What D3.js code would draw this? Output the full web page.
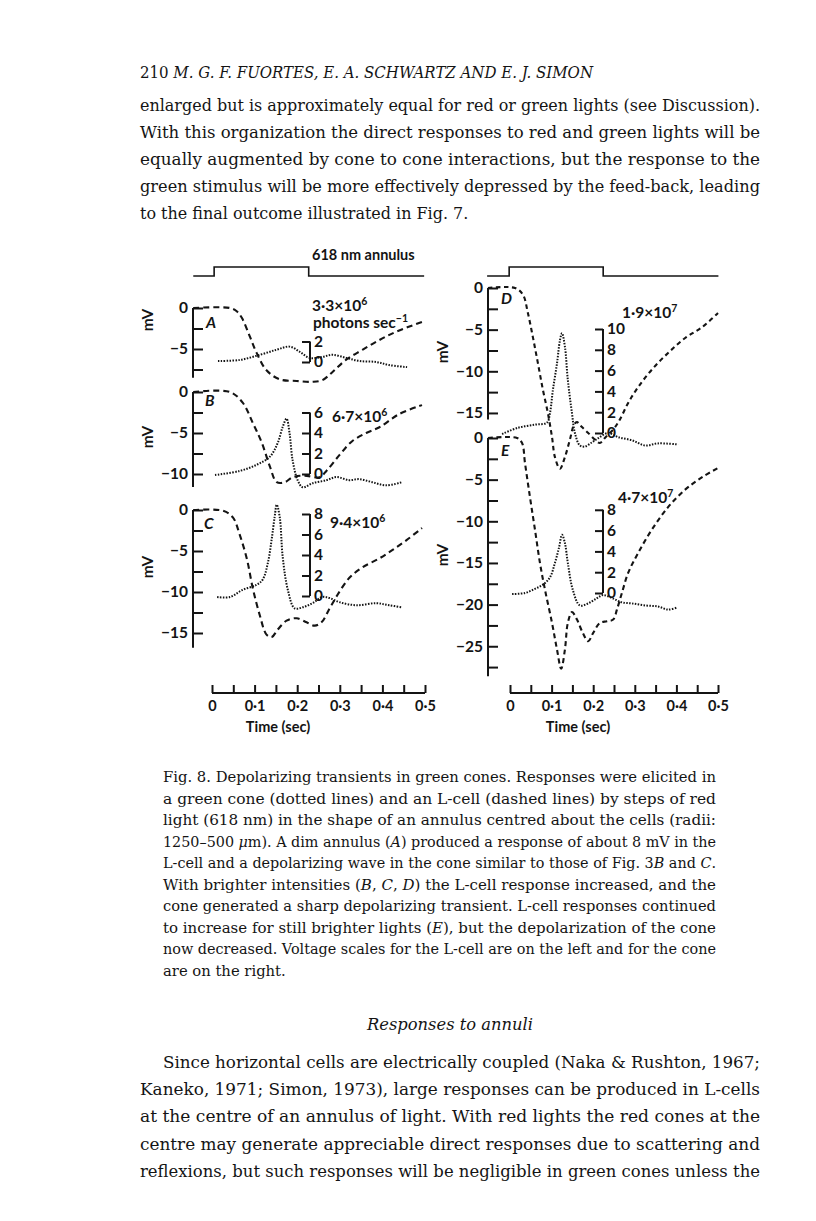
<!DOCTYPE html>
<html><head><meta charset="utf-8">
<script src="https://cdn.jsdelivr.net/npm/d3@7"></script>
<style>body{margin:0;background:#fff} svg{display:block}</style>
</head><body>
<svg id="page" width="816" height="1221"></svg>
<script>
// ---------------- DATA ----------------
const timeTicks = [0,0.05,0.1,0.15,0.2,0.25,0.3,0.35,0.4,0.45,0.5];
const timeLabels = ["0","","0·1","","0·2","","0·3","","0·4","","0·5"];
const mvTicksA = [0,-2.5,-5,-7.5];
const mvTicksB = [0,-2.5,-5,-7.5,-10];
const mvTicksC = [0,-2.5,-5,-7.5,-10,-12.5,-15];
const mvTicksD = [0,-2.5,-5,-7.5,-10,-12.5,-15];
const mvTicksE = [0,-2.5,-5,-7.5,-10,-12.5,-15,-17.5,-20,-22.5,-25,-27.5];
const coneTicksA = [0,2];
const coneTicksB = [0,2,4,6];
const coneTicksC = [0,2,4,6,8];
const coneTicksD = [0,2,4,6,8,10];
const coneTicksE = [0,2,4,6,8];
const panelLetters = ["A","B","C","D","E"];
const intensities = [["3·3×10","6"],["6·7×10","6"],["9·4×10","6"],["1·9×10","7"],["4·7×10","7"]];

// stimulus (time s, on/off)
const stimLeft  = [[-0.044,0],[0.005,0],[0.005,1],[0.227,1],[0.227,0],[0.498,0]];
const stimRight = [[-0.055,0],[-0.002,0],[-0.002,1],[0.224,1],[0.224,0],[0.501,0]];

// L-cell (dashed) responses, [time s, mV]
const lcellA = [[-0.044,0],[0.042,0],[0.058,-0.4],[0.070,-1.2],[0.089,-3.5],[0.105,-5.5],[0.128,-7.6],[0.159,-8.7],[0.199,-8.9],[0.236,-9.0],[0.259,-8.8],[0.283,-7.8],[0.315,-6.3],[0.353,-5.1],[0.393,-3.9],[0.432,-2.9],[0.493,-1.7]];
const lcellB = [[-0.044,0],[0.042,0],[0.072,-1.3],[0.096,-3.8],[0.117,-6.2],[0.136,-9.1],[0.152,-11.0],[0.171,-11.0],[0.189,-10.4],[0.217,-10.2],[0.252,-10.4],[0.269,-9.6],[0.299,-7.7],[0.329,-6.0],[0.362,-5.0],[0.393,-4.3],[0.439,-2.7],[0.493,-1.6]];
const lcellC = [[-0.044,0],[0.026,-0.1],[0.049,-0.9],[0.065,-3.0],[0.082,-6.0],[0.096,-9.6],[0.112,-12.8],[0.128,-15.2],[0.140,-15.5],[0.154,-14.6],[0.175,-13.5],[0.199,-13.2],[0.222,-13.7],[0.241,-14.1],[0.257,-13.7],[0.276,-12.0],[0.294,-10.4],[0.322,-8.3],[0.353,-7.0],[0.393,-5.9],[0.423,-4.9],[0.456,-3.7],[0.493,-2.2]];
const lcellD = [[-0.053,0],[0.012,0],[0.031,-0.8],[0.043,-3.0],[0.055,-5.9],[0.067,-9.0],[0.079,-12.2],[0.091,-15.0],[0.101,-17.9],[0.108,-20.3],[0.120,-21.7],[0.132,-20.3],[0.144,-18.2],[0.154,-16.4],[0.161,-16.1],[0.173,-16.7],[0.188,-17.4],[0.204,-18.2],[0.216,-18.6],[0.228,-18.0],[0.248,-17.0],[0.264,-15.8],[0.284,-13.8],[0.308,-11.9],[0.341,-9.8],[0.380,-7.8],[0.421,-6.0],[0.462,-4.7],[0.500,-3.0]];
const lcellE = [[-0.053,0],[0.017,0],[0.029,-0.6],[0.036,-3.0],[0.048,-7.1],[0.060,-11.0],[0.072,-15.0],[0.084,-18.2],[0.101,-22.2],[0.113,-25.4],[0.123,-27.7],[0.132,-25.4],[0.139,-22.2],[0.149,-20.9],[0.161,-21.8],[0.175,-23.4],[0.188,-24.4],[0.200,-23.4],[0.216,-22.2],[0.233,-22.0],[0.248,-21.8],[0.257,-20.6],[0.269,-18.6],[0.284,-16.2],[0.308,-13.8],[0.341,-11.0],[0.380,-8.3],[0.421,-6.2],[0.462,-4.7],[0.500,-3.6]];

// green cone (dotted) responses, [time s, mV on cone scale]
const coneA = [[0.014,0.1],[0.065,0.2],[0.112,0.7],[0.152,1.2],[0.182,1.5],[0.206,1.0],[0.229,0.4],[0.259,0.5],[0.283,0.7],[0.315,0.4],[0.346,0.1],[0.386,0],[0.416,-0.3],[0.458,-0.5]];
const coneB = [[0.007,-0.1],[0.065,0.3],[0.105,0.9],[0.136,1.7],[0.154,3.0],[0.166,4.6],[0.175,5.4],[0.182,4.0],[0.189,1.4],[0.201,-0.6],[0.213,-1.3],[0.236,-0.9],[0.269,-0.6],[0.292,-0.3],[0.322,-0.6],[0.346,-0.5],[0.376,-0.8],[0.409,-1.1],[0.446,-0.8]];
const coneC = [[0.012,-0.1],[0.042,-0.1],[0.072,0.6],[0.105,1.1],[0.119,1.6],[0.131,3.2],[0.140,5.5],[0.147,7.7],[0.152,8.9],[0.159,7.7],[0.166,3.8],[0.178,0.6],[0.194,-1.2],[0.213,-1.1],[0.236,-0.7],[0.259,-0.1],[0.276,-0.2],[0.299,-0.6],[0.339,-0.9],[0.386,-0.7],[0.416,-0.9],[0.446,-1.1]];
const coneD = [[-0.019,-0.1],[0.019,0.5],[0.060,0.8],[0.089,1.0],[0.096,1.9],[0.103,4.1],[0.113,6.7],[0.120,8.9],[0.125,9.6],[0.132,8.3],[0.139,5.1],[0.149,1.9],[0.156,0],[0.168,-1.2],[0.180,-1.3],[0.197,-0.9],[0.212,-0.5],[0.236,0],[0.260,-0.4],[0.293,-0.7],[0.325,-1.2],[0.356,-1.0],[0.404,-1.1]];
const coneE = [[0.005,-0.1],[0.036,0],[0.060,0.4],[0.079,0.8],[0.096,1.5],[0.108,2.9],[0.118,4.4],[0.125,5.6],[0.132,4.8],[0.139,2.9],[0.151,0.3],[0.168,-1.2],[0.188,-1.0],[0.209,-0.5],[0.224,-0.2],[0.246,-0.5],[0.269,-0.9],[0.293,-1.0],[0.325,-1.2],[0.356,-1.3],[0.380,-1.6],[0.401,-1.4]];

// page text
const headerNum = "210";
const headerAuthors = "M. G. F. FUORTES, E. A. SCHWARTZ AND E. J. SIMON";
const paraTop = [
 "enlarged but is approximately equal for red or green lights (see Discussion).",
 "With this organization the direct responses to red and green lights will be",
 "equally augmented by cone to cone interactions, but the response to the",
 "green stimulus will be more effectively depressed by the feed-back, leading",
 "to the final outcome illustrated in Fig. 7."
];
const caption = [
 "Fig. 8. Depolarizing transients in green cones. Responses were elicited in",
 "a green cone (dotted lines) and an L-cell (dashed lines) by steps of red",
 "light (618 nm) in the shape of an annulus centred about the cells (radii:",
 "1250–500 _μ_m). A dim annulus (_A_) produced a response of about 8 mV in the",
 "L-cell and a depolarizing wave in the cone similar to those of Fig. 3_B_ and _C_.",
 "With brighter intensities (_B_, _C_, _D_) the L-cell response increased, and the",
 "cone generated a sharp depolarizing transient. L-cell responses continued",
 "to increase for still brighter lights (_E_), but the depolarization of the cone",
 "now decreased. Voltage scales for the L-cell are on the left and for the cone",
 "are on the right."
];
const sectionTitle = "Responses to annuli";
const paraBottom = [
 "Since horizontal cells are electrically coupled (Naka & Rushton, 1967;",
 "Kaneko, 1971; Simon, 1973), large responses can be produced in L-cells",
 "at the centre of an annulus of light. With red lights the red cones at the",
 "centre may generate appreciable direct responses due to scattering and",
 "reflexions, but such responses will be negligible in green cones unless the"
];

// ---------------- DRAWING ----------------
const svg = d3.select("#page");
svg.append("rect").attr("width",816).attr("height",1221).attr("fill","#fff");
const INK = "#141414";
const SERIF = "'DejaVu Serif',serif";
const SANS = "Lato,'Open Sans',sans-serif";

function addLine(x, y, str, size, width, opts={}) {
  const t = svg.append("text").attr("x",x).attr("y",y)
    .attr("font-family",SERIF).attr("font-size",size).attr("fill",INK);
  if (opts.anchor) t.attr("text-anchor",opts.anchor);
  str.split("_").forEach((s,i)=>{
    if (!s) return;
    t.append("tspan").attr("font-style", (i%2===1||opts.italic)?"italic":"normal").text(s);
  });
  const nat = t.node().getComputedTextLength();
  const w = width || nat*(opts.factor||0.9);
  t.attr("textLength",w).attr("lengthAdjust","spacingAndGlyphs");
  return {t, nat};
}

// header
const hd = svg.append("text").attr("x",140).attr("y",78).attr("font-family",SERIF)
  .attr("font-size",16).attr("fill",INK).attr("textLength",453).attr("lengthAdjust","spacingAndGlyphs");
hd.append("tspan").text(headerNum+" ");
hd.append("tspan").attr("font-style","italic").text(headerAuthors);

function block(lines, x0, y0, step, size, width, indentFirst, justifyLast) {
  let factor = 0.9;
  lines.forEach((s,i)=>{
    const ind = (indentFirst && i===0) ? indentFirst : 0;
    const last = i===lines.length-1;
    const w = (last && !justifyLast) ? null : width - ind;
    const r = addLine(x0+ind, y0+i*step, s, size, w, {factor});
    if (i===0 && w) factor = w / r.nat;
  });
}
block(paraTop, 140, 111, 27, 16.5, 620, 0, false);
block(caption, 163, 782, 21.5, 14.3, 553, 0, false);
addLine(450, 1030, sectionTitle, 16.5, 166, {anchor:"middle", italic:true});
block(paraBottom, 140, 1068, 27.2, 16.5, 620, 23, true);

// ---- chart ----
const xL = d3.scaleLinear().domain([0,0.5]).range([212,425]);
const xR = d3.scaleLinear().domain([0,0.5]).range([510,718]);

function txt(x,y,s,size,opts={}) {
  const t = svg.append("text").attr("x",x).attr("y",y).attr("font-family",SANS)
    .attr("font-size",size).attr("font-weight",opts.weight||700).attr("fill",INK);
  if (opts.anchor) t.attr("text-anchor",opts.anchor);
  if (opts.italic) t.attr("font-style","italic");
  if (opts.transform) t.attr("transform",opts.transform);
  t.text(s);
  return t;
}

// stimulus traces
const stimY = d3.scaleLinear().domain([0,1]).range([276,267]);
[[stimLeft,xL],[stimRight,xR]].forEach(([d,x])=>{
  svg.append("path").datum(d)
    .attr("d", d3.line().x(p=>x(p[0])).y(p=>stimY(p[1])))
    .attr("fill","none").attr("stroke",INK).attr("stroke-width",1.6);
});
txt(312, 260, "618 nm annulus", 14.5);

const panels = [
  {letter:panelLetters[0], x:xL, axisX:193, y0:308, ppm:8.2, bottom:-8.5, ticks:mvTicksA, lcell:lcellA,
   cone:coneA, coneX:310, cone0:362, cppm:10.25, coneTicks:coneTicksA, inten:intensities[0], intenXY:[312,311], photons:true,
   mvLabelY:320, letterXY:[206,328]},
  {letter:panelLetters[1], x:xL, axisX:193, y0:392, ppm:8.2, bottom:-11.6, ticks:mvTicksB, lcell:lcellB,
   cone:coneB, coneX:310, cone0:474, cppm:10.25, coneTicks:coneTicksB, inten:intensities[1], intenXY:[332,422],
   mvLabelY:437, letterXY:[205,406]},
  {letter:panelLetters[2], x:xL, axisX:193, y0:510, ppm:8.2, bottom:-16.8, ticks:mvTicksC, lcell:lcellC,
   cone:coneC, coneX:310, cone0:596, cppm:10.25, coneTicks:coneTicksC, inten:intensities[2], intenXY:[330,528],
   mvLabelY:567, letterXY:[204,529]},
  {letter:panelLetters[3], x:xR, axisX:488, y0:288, ppm:8.33, bottom:-15.8, ticks:mvTicksD, lcell:lcellD,
   cone:coneD, coneX:603, cone0:433, cppm:10.4, coneTicks:coneTicksD, inten:intensities[3], intenXY:[622,318],
   mvLabelY:352, letterXY:[501,304], dash:"4.5 3.5"},
  {letter:panelLetters[4], x:xR, axisX:488, y0:438, ppm:8.33, bottom:-28.6, ticks:mvTicksE, lcell:lcellE,
   cone:coneE, coneX:603, cone0:593, cppm:10.4, coneTicks:coneTicksE, inten:intensities[4], intenXY:[618,503],
   mvLabelY:555, letterXY:[501,456], dash:"5 3.5"}
];

panels.forEach(p=>{
  const y = d3.scaleLinear().domain([0,-10]).range([p.y0, p.y0+10*p.ppm]);
  const ax = d3.axisLeft(y).tickValues(p.ticks).tickSizeInner(-10).tickSizeOuter(0).tickPadding(5)
    .tickFormat(v=> (v%5===0) ? (v===0?"0":d3.format("d")(v)) : "");
  const ga = svg.append("g").attr("transform",`translate(${p.axisX},0)`).call(ax);
  ga.select(".domain").attr("d",`M0,${y(0)}V${y(p.bottom)}`).attr("stroke",INK).attr("stroke-width",2);
  ga.selectAll(".tick line").attr("stroke",INK).attr("stroke-width",2);
  ga.selectAll(".tick text").attr("font-family",SANS).attr("font-size",15.5).attr("font-weight",700).attr("fill",INK);

  txt(p.axisX-45, p.mvLabelY, "mV", 15.5, {anchor:"middle", transform:`rotate(-90 ${p.axisX-45} ${p.mvLabelY})`})
    .attr("dy","0.35em");
  txt(p.letterXY[0], p.letterXY[1], p.letter, 15.5, {italic:true});

  svg.append("path").datum(p.lcell)
    .attr("d", d3.line().curve(d3.curveCatmullRom.alpha(0.5)).x(d=>p.x(d[0])).y(d=>y(d[1])))
    .attr("fill","none").attr("stroke",INK).attr("stroke-width",2.1)
    .attr("stroke-dasharray", p.dash||"6 4");

  const cy = d3.scaleLinear().domain([0,10]).range([p.cone0, p.cone0-10*p.cppm]);
  const cax = d3.axisRight(cy).tickValues(p.coneTicks).tickSizeInner(-8).tickSizeOuter(0).tickPadding(4)
    .tickFormat(d3.format("d"));
  const gc = svg.append("g").attr("transform",`translate(${p.coneX},0)`).call(cax);
  const top = d3.max(p.coneTicks);
  gc.select(".domain").attr("d",`M0,${cy(0)}V${cy(top)}`).attr("stroke",INK).attr("stroke-width",2);
  gc.selectAll(".tick line").attr("stroke",INK).attr("stroke-width",2);
  gc.selectAll(".tick text").attr("font-family",SANS).attr("font-size",15.5).attr("font-weight",700).attr("fill",INK);

  svg.append("path").datum(p.cone)
    .attr("d", d3.line().curve(d3.curveCatmullRom.alpha(0.5)).x(d=>p.x(d[0])).y(d=>cy(d[1])))
    .attr("fill","none").attr("stroke",INK).attr("stroke-width",2)
    .attr("stroke-dasharray","1.5 1.4");

  const it = txt(p.intenXY[0], p.intenXY[1], "", 15.5);
  it.append("tspan").text(p.inten[0]);
  it.append("tspan").attr("dy",-6).attr("font-size",10.5).text(p.inten[1]);
  if (p.photons) {
    const ph = txt(313, 328, "", 15.5);
    ph.append("tspan").text("photons sec");
    ph.append("tspan").attr("dy",-6).attr("font-size",10.5).text("−1");
  }
});

// time axes
[[xL,278],[xR,578]].forEach(([x,cx])=>{
  const ax = d3.axisBottom(x).tickValues(timeTicks).tickSizeInner(-8).tickSizeOuter(0).tickPadding(8)
    .tickFormat((v,i)=>timeLabels[i]);
  const g = svg.append("g").attr("transform","translate(0,693)").call(ax);
  g.select(".domain").attr("d",`M${x(0)},0H${x(0.5)}`).attr("stroke",INK).attr("stroke-width",2);
  g.selectAll(".tick line").attr("stroke",INK).attr("stroke-width",2);
  g.selectAll(".tick text").attr("font-family",SANS).attr("font-size",14.5).attr("font-weight",700).attr("fill",INK);
  txt(cx, 732, "Time (sec)", 14.5, {anchor:"middle"});
});
</script>
</body></html>
